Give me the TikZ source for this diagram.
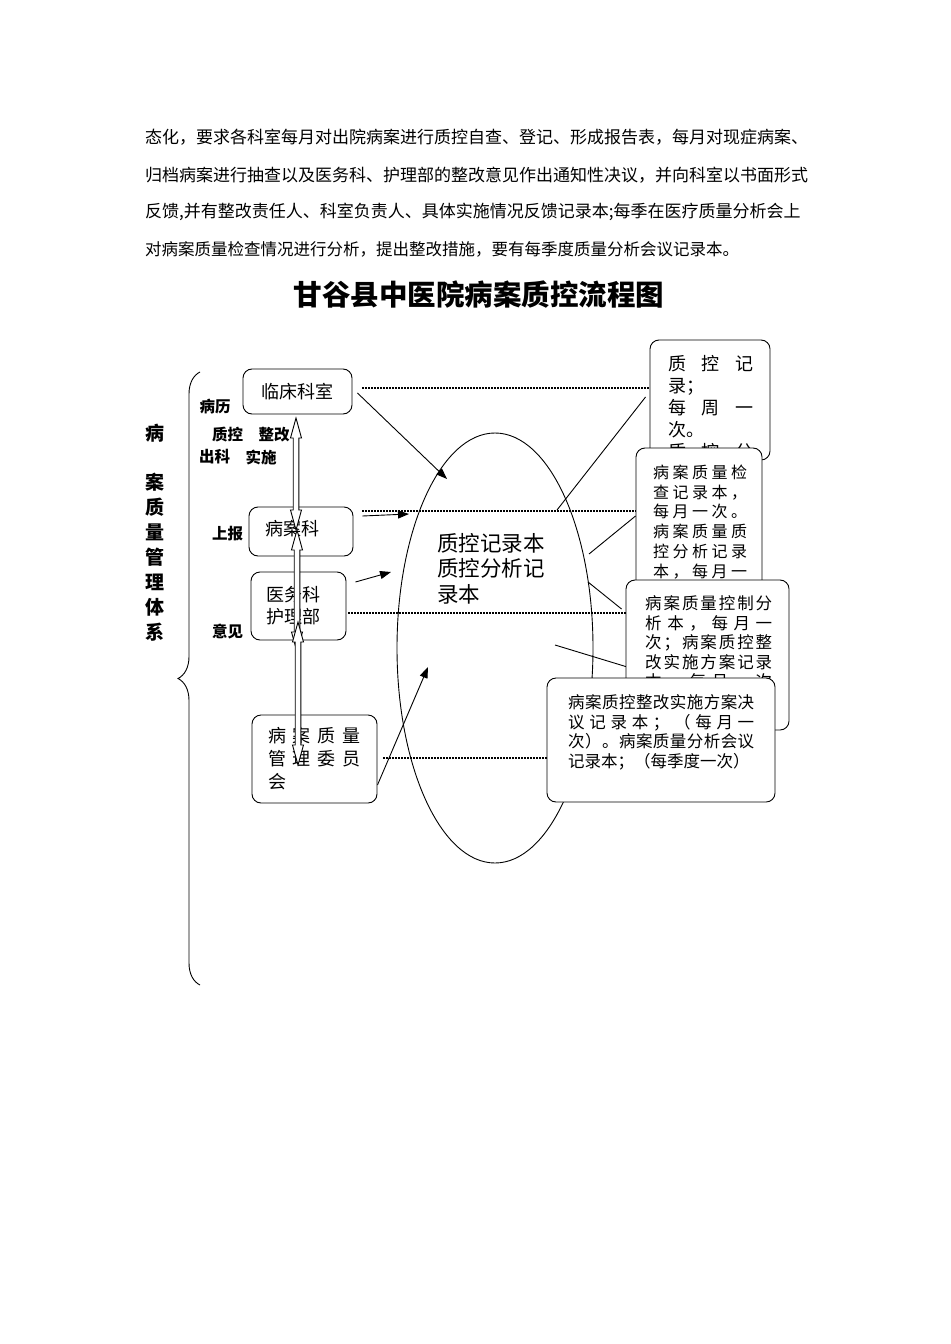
\documentclass[tikz,border=0pt]{standalone}
\usepackage{fontspec}
\setmainfont{Noto Sans CJK SC}
\usetikzlibrary{shapes.geometric,arrows.meta,decorations.pathreplacing,calc,backgrounds}
\newcommand\jsp{\hfil}
\newcommand\hdarrow[3]{%
  \path[hollow] (#1,#2) -- ++(5.5,20) -- ++(-2.7,0) -- (#1+2.8,#3-20) -- ++(2.7,0)
    -- (#1,#3) -- ++(-5.5,-20) -- ++(2.7,0) -- (#1-2.8,#2+20) -- ++(-2.7,0) -- cycle;}
\begin{document}
\begin{tikzpicture}[x=1bp,y=-1bp,
  box/.style={draw, rounded corners=9bp, fill=white, line width=0.9bp, inner sep=0pt},
  txt/.style={anchor=north west, inner sep=0pt, align=left},
  lab/.style={font=\bfseries\fontsize{15.5bp}{18bp}\selectfont, inner sep=0pt},
  para/.style={anchor=west, inner sep=0pt, font=\fontsize{17bp}{20bp}\selectfont},
  dotl/.style={line width=1.3bp, dash pattern=on 1.6bp off 1.4bp},
  arr/.style={line width=0.9bp, -{Triangle[length=11bp,width=8bp]}},
  conn/.style={line width=0.9bp},
  hollow/.style={fill=white, draw=black, line width=0.9bp, line join=miter}]
\useasboundingbox (0,0) rectangle (950,1344);
\begin{scope}[on background layer]
  \fill[white] (0,0) rectangle (950,1344);
\end{scope}

% paragraph
\node[para] (p1) at (145,137) {态化，要求各科室每月对出院病案进行质控自查、登记、形成报告表，每月对现症病案、};
\node[para] (p2) at (145,175) {归档病案进行抽查以及医务科、护理部的整改意见作出通知性决议，并向科室以书面形式};
\node[para] (p3) at (145,212) {反馈,并有整改责任人、科室负责人、具体实施情况反馈记录本;每季在医疗质量分析会上};
\node[para, font=\fontsize{16.5bp}{20bp}\selectfont] (p4) at (145,249) {对病案质量检查情况进行分析，提出整改措施，要有每季度质量分析会议记录本。};

% title
\node[font=\bfseries\fontsize{28.5bp}{32bp}\selectfont, inner sep=0pt] (title) at (479,295) {甘谷县中医院病案质控流程图};

% brace and vertical text
\draw[decorate, decoration={brace, amplitude=22bp}, line width=0.9bp] (200,985) -- (200,372);
\node[anchor=north, align=center, inner sep=0pt, font=\bfseries\fontsize{19bp}{24.9bp}\selectfont] (sys) at (155,423.5)
  {病\\[24.9bp]案\\质\\量\\管\\理\\体\\系};

% labels
\node[lab] (l1) at (215,406.5) {病历};
\node[lab] (l2) at (227.5,435) {质控};
\node[lab] (l3) at (274,435) {整改};
\node[lab] (l4) at (214.5,457) {出科};
\node[lab] (l5) at (261,457) {实施};
\node[lab] (l6) at (227.5,533.5) {上报};
\node[lab] (l7) at (227.5,631.5) {意见};

% ellipse
\node[draw, ellipse, minimum width=196bp, minimum height=430bp, inner sep=0pt, line width=0.9bp] (ell) at (495,648) {};
\node[txt, font=\fontsize{21.5bp}{25.5bp}\selectfont] (elltxt) at (437,533) {质控记录本\\质控分析记\\录本};

% left boxes
\node[box, minimum width=109bp, minimum height=45bp, font=\fontsize{18bp}{22bp}\selectfont] (lc) at (297.5,391.5) {临床科室};
\node[box, minimum width=104bp, minimum height=49bp] (bak) at (301,531.5) {};
\node[txt, font=\fontsize{18bp}{22bp}\selectfont] (baktxt) at (265,519.7) {病案科};
\node[box, minimum width=95bp, minimum height=68bp] (ywk) at (298.5,606) {};
\node[txt, font=\fontsize{18bp}{22.5bp}\selectfont] (ywktxt) at (266,585.7) {医务科\\护理部};
\node[box, minimum width=125bp, minimum height=88bp] (wyh) at (314.5,759) {};
\node[txt, font=\fontsize{18bp}{23.3bp}\selectfont] (wyhtxt) at (268,726.7)
  {\hbox to 92bp{病\jsp 案\jsp 质\jsp 量}\\\hbox to 92bp{管\jsp 理\jsp 委\jsp 员}\\会};

% right boxes
\node[box, minimum width=120bp, minimum height=120bp] (bA) at (710,400) {};
\node[txt, font=\fontsize{18bp}{22bp}\selectfont] (bAtxt) at (668,354.7)
  {\hbox to 85bp{质\jsp 控\jsp 记}\\录；\\\hbox to 85bp{每\jsp 周\jsp 一}\\次。\\\hbox to 85bp{质\jsp 控\jsp 分}};
\node[box, minimum width=126bp, minimum height=152bp] (bB) at (699,524) {};
\node[txt, font=\fontsize{16bp}{19.8bp}\selectfont] (bBtxt) at (653,464.6)
  {\hbox to 94bp{病\jsp 案\jsp 质\jsp 量\jsp 检}\\
   \hbox to 94bp{查\jsp 记\jsp 录\jsp 本\jsp ，}\\
   \hbox to 94bp{每\jsp 月\jsp 一\jsp 次\jsp 。}\\
   \hbox to 94bp{病\jsp 案\jsp 质\jsp 量\jsp 质}\\
   \hbox to 94bp{控\jsp 分\jsp 析\jsp 记\jsp 录}\\
   \hbox to 94bp{本\jsp ，\jsp 每\jsp 月\jsp 一}};
\node[box, minimum width=163bp, minimum height=150bp] (bC) at (707.5,655) {};
\node[txt, font=\fontsize{16.5bp}{19.5bp}\selectfont] (bCtxt) at (645,595.4)
  {\hbox to 127bp{病\jsp 案\jsp 质\jsp 量\jsp 控\jsp 制\jsp 分}\\
   \hbox to 127bp{析\jsp 本\jsp ，\jsp 每\jsp 月\jsp 一}\\
   \hbox to 127bp{次\jsp ；\jsp 病\jsp 案\jsp 质\jsp 控\jsp 整}\\
   \hbox to 127bp{改\jsp 实\jsp 施\jsp 方\jsp 案\jsp 记\jsp 录}\\
   \hbox to 127bp{本\jsp ，\jsp 每\jsp 月\jsp 一\jsp 次}};
\node[box, minimum width=228bp, minimum height=124bp] (bD) at (661,740) {};
\node[txt, font=\fontsize{16.5bp}{19.7bp}\selectfont] (bDtxt) at (568,694.4)
  {\hbox to 186bp{病\jsp 案\jsp 质\jsp 控\jsp 整\jsp 改\jsp 实\jsp 施\jsp 方\jsp 案\jsp 决}\\
   \hbox to 186bp{议\jsp 记\jsp 录\jsp 本\jsp ；\jsp （\jsp 每\jsp 月\jsp 一}\\
   \hbox to 186bp{次\jsp ）\jsp 。\jsp 病\jsp 案\jsp 质\jsp 量\jsp 分\jsp 析\jsp 会\jsp 议}\\
   记录本；（每季度一次）};

% connectors (behind the boxes)
\begin{scope}[on background layer]
  \coordinate (d1s) at ($(lc.east)+(10,-3.5)$);
  \coordinate (d2s) at ($(bak.east)+(9,-20.5)$);
  \coordinate (d3s) at ($(ywk.east)+(2,7)$);
  \coordinate (d4s) at ($(wyh.east)+(6,-1)$);
  \draw[dotl] (d1s) -- (d1s -| bA.west);
  \draw[dotl] (d2s) -- (d2s -| bB.west);
  \draw[dotl] (d3s) -- (d3s -| bC.west);
  \draw[dotl] (d4s) -- (d4s -| bD.west);
  \draw[arr] ($(lc.east)+(5,1.5)$) -- ($(ell.center)+(-48,-169)$);
  \draw[arr] ($(bak.east)+(9,-15.5)$) -- ($(ell.center)+(-86,-134)$);
  \draw[arr] ($(ywk.east)+(9,-24)$) -- ($(ell.center)+(-104,-76)$);
  \draw[arr] ($(wyh.east)+(0,26)$) -- ($(ell.center)+(-67,19)$);
  \draw[conn] ($(bA.west)+(-4,-3)$) -- ($(ell.center)+(62,-138)$);
  \draw[conn] ($(ell.center)+(94,-94)$) -- ($(bB.west)+(0,-8)$);
  \draw[conn] ($(ell.center)+(93,-66)$) -- ($(bC.west)+(-4,-46)$);
  \draw[conn] ($(ell.center)+(60,-3)$) -- ($(bD.north)+(1,0)$);
\end{scope}

% hollow double arrows between the left boxes
\hdarrow{296}{418}{530}
\hdarrow{297}{530}{652}
\hdarrow{298}{622}{765}
\end{tikzpicture}
\end{document}
